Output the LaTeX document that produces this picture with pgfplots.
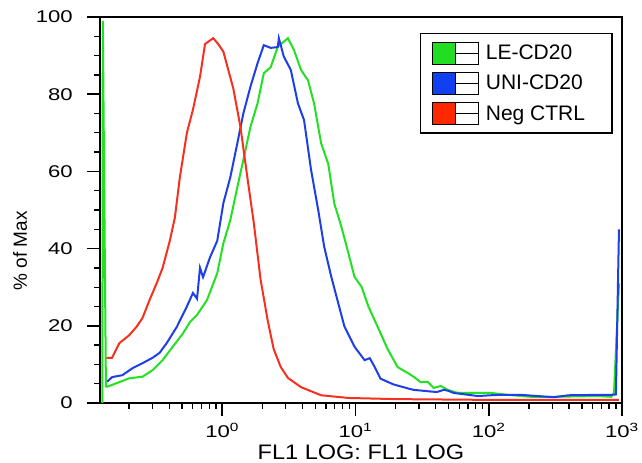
\documentclass[border=0pt]{standalone}
\usepackage{fontspec}
\setmainfont{Liberation Sans}
\newfontfamily\tickfont[FakeStretch=1.3]{Liberation Sans}
\newfontfamily\xlabfont[FakeStretch=1.12]{Liberation Sans}
\usepackage{pgfplots}
\pgfplotsset{compat=1.18}
\definecolor{cgreen}{HTML}{22E022}
\definecolor{cblue}{HTML}{1F3FE6}
\definecolor{cred}{HTML}{F5301E}
\definecolor{lgreen}{HTML}{22DD22}
\definecolor{lblue}{HTML}{1040F0}
\definecolor{lred}{HTML}{FF2800}
\pgfplotsset{
  legbox/.style={legend image code/.code={
    \draw[black,line width=1.2pt,fill=#1] (0pt,-11pt) rectangle (23pt,11pt);
    \draw[black,line width=1.2pt,fill=white] (23pt,-11pt) rectangle (46pt,11pt);
    \draw[black,line width=1.2pt] (23pt,0pt) -- (46pt,0pt);}}
}
\newcommand{\lt}[1]{\makebox[113pt][l]{#1}}
\begin{document}
\begin{tikzpicture}
\begin{axis}[
  scale only axis,
  width=522pt, height=386pt,
  xmode=log, xmin=0.121, xmax=1000,
  ymin=0, ymax=100,
  xtick={1,10,100,1000},
  xticklabels={10\textsuperscript{0},10\textsuperscript{1},10\textsuperscript{2},10\textsuperscript{3}},
  minor xtick={0.2,0.3,0.4,0.5,0.6,0.7,0.8,0.9,2,3,4,5,6,7,8,9,20,30,40,50,60,70,80,90,200,300,400,500,600,700,800,900},
  ytick={0,20,40,60,80,100},
  minor ytick={5,10,15,25,30,35,45,50,55,65,70,75,85,90,95},
  tick align=outside, tick pos=left,
  major tick length=13pt, minor tick length=6pt,
  major tick style={black,line width=1.5pt},
  minor tick style={black,line width=1.3pt},
  axis line style={black,line width=1.5pt},
  /pgf/number format/assume math mode=true,
  ticklabel style={font=\tickfont\fontsize{17}{17}\selectfont},
  yticklabel style={xshift=-10pt},
  xticklabel style={yshift=-3pt},
  xlabel={FL1 LOG: FL1 LOG},
  ylabel={\% of Max},
  every axis x label/.style={at={(axis description cs:0.5,-0.128)},anchor=center,
    font=\xlabfont\fontsize{21}{21}\selectfont},
  every axis y label/.style={at={(axis description cs:-0.153,0.394)},rotate=90,anchor=center,
    font=\fontsize{19}{19}\selectfont},
  legend style={at={(0.982,0.959)},anchor=north east,draw=black,line width=1.5pt,
    font=\fontsize{21}{21}\selectfont,inner xsep=11pt,inner ysep=8pt,row sep=7pt,column sep=5pt},
  legend cell align=left,
  line width=2pt,
]
\addplot[cgreen,legbox=lgreen] coordinates {
  (0.126,0) (0.127,99) (0.134,4.3) (0.137,4.2) (0.160,5.1) (0.201,6.4) (0.252,6.8)
  (0.300,8.5) (0.357,11.1) (0.426,14.6) (0.507,18) (0.573,21) (0.647,22.8) (0.769,26.7)
  (0.917,33.6) (1.02,41.4) (1.15,47.4) (1.30,56) (1.44,63) (1.63,71.6) (1.84,77.6)
  (2.05,85.4) (2.31,87) (2.61,92.3) (3.11,94.5) (3.45,91.5) (3.90,86.3) (4.40,83.6)
  (4.89,77.6) (5.52,67.3) (6.24,62) (6.93,51.7) (7.83,45.7) (8.85,38.8) (9.82,32.7)
  (11.1,30.1) (12.5,25) (15.4,18.1) (17.4,14) (20.7,9.3) (24.6,7.8) (27.3,6.8)
  (30.8,5.4) (34.8,5.5) (38.6,3.9) (43.6,4.4) (49.2,3.4) (58.5,2.6) (87,2.6) (104,2.6)
  (139,2.1) (207,1.6) (308,1.6) (660,1.8) (827,1.6) (871,2.6) (949,31)
};
\addplot[cblue,legbox=lblue] coordinates {
  (0.137,5.5) (0.149,6.7) (0.178,7.2) (0.212,9) (0.252,10.3) (0.300,11.7) (0.339,13)
  (0.383,15.5) (0.456,19.7) (0.543,25) (0.603,28.5) (0.647,27) (0.681,35) (0.718,32.6)
  (0.811,37.8) (0.917,42) (1.02,51.8) (1.15,58.5) (1.30,67.4) (1.44,75) (1.63,82)
  (1.84,88) (2.05,92.7) (2.31,92) (2.61,92.2) (2.66,94.5) (2.90,89.7) (3.27,86.3)
  (3.70,77.6) (4.11,73.3) (4.64,60.4) (5.25,50) (5.82,40.5) (6.58,32.7) (7.43,25.8)
  (8.26,19.8) (9.82,14.6) (11.7,11.1) (12.8,11.6) (13.9,9.4) (15.4,6.3) (19.3,4.8)
  (24.6,3.8) (27.3,3.4) (38.6,2.9) (41.4,2.9) (45.9,3.4) (49.2,3.2) (54.6,2.6)
  (82.7,1.8) (117,2.1) (174,2.1) (308,1.5) (400,2.0) (660,2.1) (827,2.1) (900,2.2) (949,45)
};
\addplot[cred,legbox=lred] coordinates {
  (0.135,11.7) (0.149,11.7) (0.169,15.5) (0.201,17.6) (0.227,19.7) (0.252,22)
  (0.285,26.7) (0.322,31) (0.357,35) (0.404,42) (0.441,48) (0.481,58.5) (0.543,70)
  (0.603,76) (0.681,84.5) (0.743,93) (0.855,94.5) (0.933,93) (1.02,91) (1.21,81.5)
  (1.37,71.5) (1.55,58) (1.72,47) (1.94,32) (2.19,21.5) (2.43,14) (2.75,9.3)
  (3.11,6.5) (3.90,4.1) (5.52,2) (8.85,1.3) (20,1.0) (100,0.8) (949,0.8)
};
\legend{\lt{LE-CD20},\lt{UNI-CD20},\lt{Neg CTRL}}
\coordinate (bbsw) at (axis description cs:-0.1916,-0.1554);
\coordinate (bbne) at (axis description cs:1.0383,1.0440);
\end{axis}
\pgfresetboundingbox
\path[use as bounding box] (bbsw) rectangle (bbne);
\end{tikzpicture}
\end{document}
